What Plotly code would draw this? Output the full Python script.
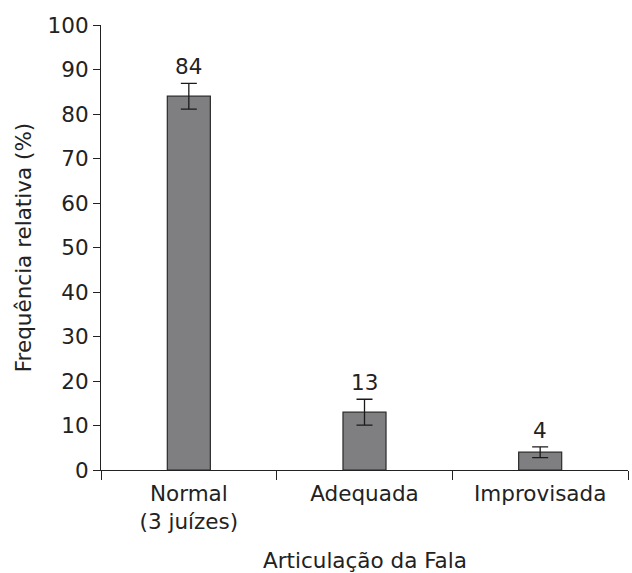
import plotly.graph_objects as go

categories = ["Normal<br>(3 juízes)", "Adequada", "Improvisada"]
values = [84, 13, 4]
errors = [2.9, 2.9, 1.2]
y_ticks = [0, 10, 20, 30, 40, 50, 60, 70, 80, 90, 100]

FONT = "DejaVu Sans"
INK = "#222222"
SIZE = 21.5

fig = go.Figure()
fig.add_trace(go.Bar(
    x=categories,
    y=values,
    width=0.245,
    marker=dict(color="#7f7f82", line=dict(color="#2a2a2a", width=1.2)),
    error_y=dict(type="data", array=errors, visible=True,
                 color="#1a1a1a", thickness=1.3, width=8),
    hoverinfo="skip",
))

for cat, v, e in zip(categories, values, errors):
    fig.add_annotation(x=cat, y=v + e, text=str(v), showarrow=False,
                       yanchor="bottom", yshift=2,
                       font=dict(family=FONT, size=SIZE, color=INK))

# x-axis title placed as a paper annotation under the category labels
fig.add_annotation(x=0.5, y=0, xref="paper", yref="paper",
                   text="Articulação da Fala", showarrow=False,
                   yanchor="middle", yshift=-90,
                   font=dict(family=FONT, size=SIZE, color=INK))

fig.update_layout(
    width=632, height=573,
    margin=dict(l=101, r=4, t=25, b=103),
    paper_bgcolor="white", plot_bgcolor="white",
    showlegend=False,
    font=dict(family=FONT, size=SIZE, color=INK),
)
fig.update_xaxes(
    type="category", range=[-0.5, 2.5],
    showline=True, linecolor="#222", linewidth=1.2,
    ticks="outside", tickson="boundaries", ticklen=9, tickcolor="#222",
    ticklabelstandoff=4,
    showgrid=False, zeroline=False,
    tickfont=dict(family=FONT, size=SIZE, color=INK),
)
fig.update_yaxes(
    range=[0, 100], tickvals=y_ticks,
    showline=True, linecolor="#222", linewidth=1.2,
    ticks="outside", ticklen=7, tickcolor="#222",
    showgrid=False, zeroline=False,
    title=dict(text="Frequência relativa (%)", standoff=10,
               font=dict(family=FONT, size=SIZE, color=INK)),
    tickfont=dict(family=FONT, size=SIZE, color=INK),
)

fig.write_html("out.html")
